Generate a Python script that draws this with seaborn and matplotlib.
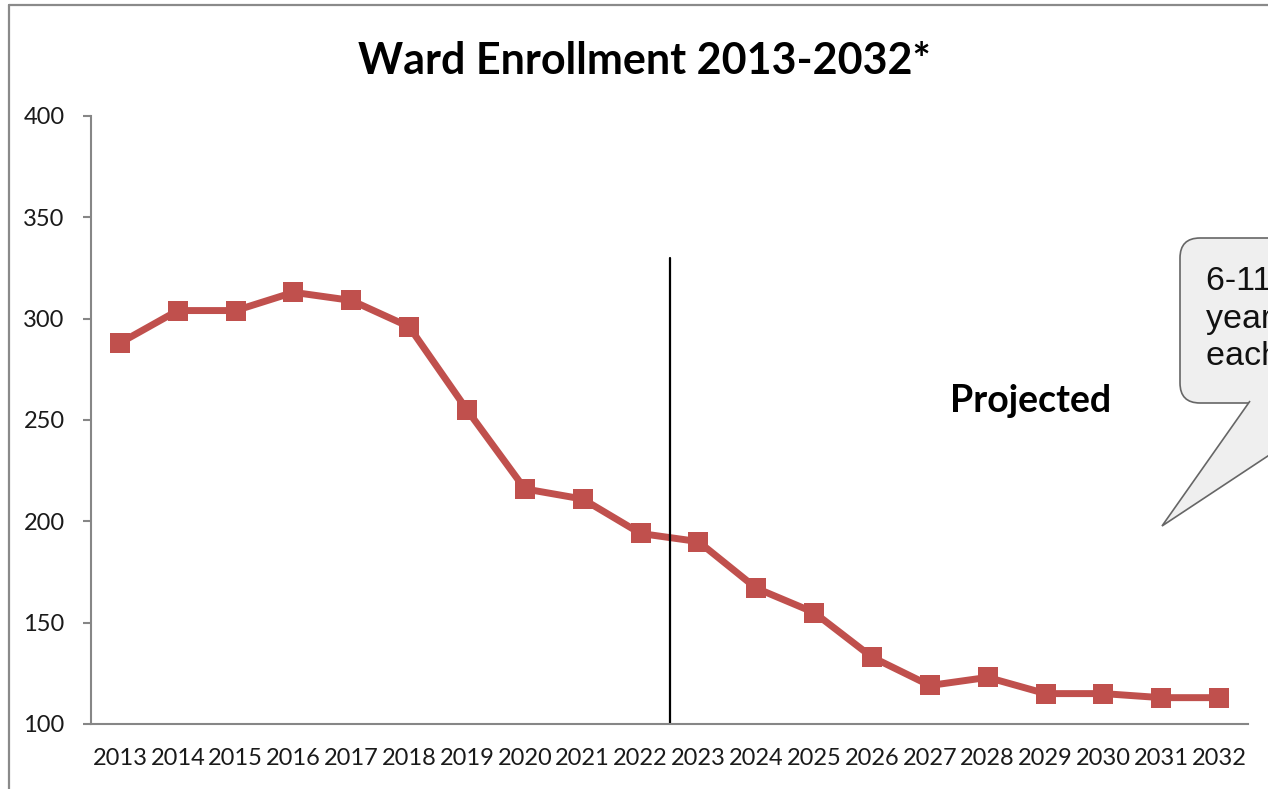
import matplotlib
matplotlib.use("Agg")
import matplotlib.pyplot as plt
import pandas as pd
import seaborn as sns
from matplotlib.lines import Line2D
from matplotlib.patches import FancyBboxPatch, Polygon
from matplotlib.ticker import FixedLocator

years = [2013, 2014, 2015, 2016, 2017, 2018, 2019, 2020, 2021, 2022,
         2023, 2024, 2025, 2026, 2027, 2028, 2029, 2030, 2031, 2032]
enrollment = [288, 304, 304, 313, 309, 296, 255, 216, 211, 194,
              190, 167, 155, 133, 119, 123, 115, 115, 113, 113]
split_after = 2022
split_top = 330
y_ticks = [100, 150, 200, 250, 300, 350, 400]

df = pd.DataFrame({"year": years, "enrollment": enrollment})
df["pos"] = range(len(df))

sns.set_style("white")
plt.rcParams['font.family'] = ['Lato', 'DejaVu Sans']

W, H = 1268, 789
fig = plt.figure(figsize=(W / 100, H / 100), dpi=100)
ax = fig.add_axes([91 / W, 1 - 724 / H, (1248 - 91) / W, (724 - 116) / H])

red = "#C0504D"
sns.lineplot(data=df, x="pos", y="enrollment", ax=ax, color=red, lw=5,
             marker="s", markersize=14.5, markeredgecolor=red, markeredgewidth=0)

# divider between actual and projected
split_pos = df.loc[df.year == split_after, "pos"].iloc[0] + 0.5
ax.plot([split_pos, split_pos], [y_ticks[0], split_top], color="black", lw=1.6)

ax.set_xlim(-0.5, len(years) - 0.5)
ax.set_ylim(y_ticks[0], y_ticks[-1])
ax.set_yticks(y_ticks)
ax.set_xticks(df["pos"])
ax.set_xticklabels(years)
ax.xaxis.set_minor_locator(FixedLocator([p - 0.5 for p in range(len(years) + 1)]))
ax.tick_params(axis="x", which="major", length=0, pad=17, labelsize=17, labelcolor="#1a1a1a")
ax.tick_params(axis="x", which="minor", length=6, width=1.5, color="#868686", direction="out")
ax.tick_params(axis="y", length=6, width=1.5, color="#868686", direction="out",
               pad=13, labelsize=17, labelcolor="#1a1a1a", left=True)
ax.set_xlabel("")
ax.set_ylabel("")
for s in ["top", "right"]:
    ax.spines[s].set_visible(False)
for s in ["left", "bottom"]:
    ax.spines[s].set_color("#868686")
    ax.spines[s].set_linewidth(1.5)

fig.text(644 / W, 1 - 61 / H, "Ward Enrollment 2013-2032*", ha="center", va="center",
         fontsize=31, fontweight="bold", color="black")
ax.text(0.812, 0.531, "Projected", transform=ax.transAxes, ha="center", va="center",
        fontsize=27, fontweight="bold", color="black")

# slide frame
def px(x, y):
    return (x / 100, (H - y) / 100)

tr = fig.dpi_scale_trans
fig.add_artist(Line2D([px(9, 5)[0], px(9, 789)[0]], [px(9, 5)[1], px(9, 789)[1]],
                      transform=tr, color="#8a8a8a", lw=1.6))
fig.add_artist(Line2D([px(9, 5)[0], px(1268, 5)[0]], [px(9, 5)[1], px(1268, 5)[1]],
                      transform=tr, color="#8a8a8a", lw=1.6))

# callout bubble, cut at the right edge
box = FancyBboxPatch(px(1180, 403), 2.2, (403 - 238) / 100,
                     boxstyle="round,pad=0,rounding_size=0.2", transform=tr,
                     facecolor="#EFEFEF", edgecolor="#666666", lw=1.2)
fig.add_artist(box)
tail = Polygon([px(1250, 401), px(1162, 526), px(1351, 401)], closed=False, transform=tr,
               facecolor="#EFEFEF", edgecolor="#666666", lw=1.2)
fig.add_artist(tail)
fig.text(*px(1206, 266), "6-11 year olds\nyears ago\neach year", transform=tr,
         ha="left", va="top", fontsize=24.5, family=["Liberation Sans", "DejaVu Sans"],
         color="#111111", linespacing=1.28)

fig.savefig("out.png", dpi=100)
